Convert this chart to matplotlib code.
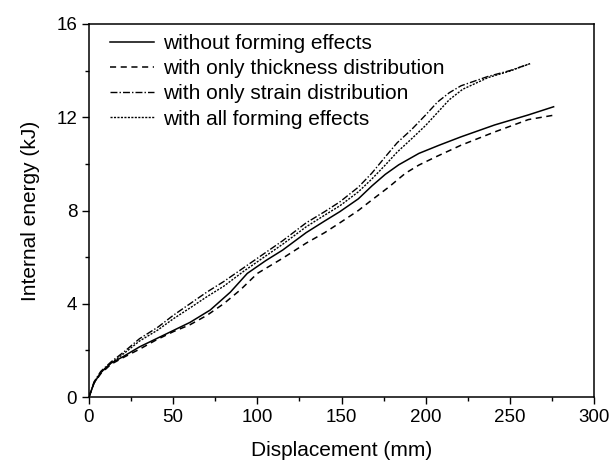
import matplotlib
matplotlib.use("Agg")
import matplotlib.pyplot as plt
import numpy as np

plt.rcParams['font.family'] = ['Liberation Sans', 'DejaVu Sans']

# Data
x_solid = [0, 3, 7, 13, 20, 30, 40, 50, 60, 72, 84, 94, 105, 115, 129, 140, 149, 160, 168, 176, 184, 196, 208, 221, 241, 261, 276]
y_solid = [0, 0.6, 1.05, 1.45, 1.72, 2.15, 2.5, 2.85, 3.2, 3.73, 4.5, 5.3, 5.85, 6.3, 7.05, 7.55, 7.95, 8.5, 9.05, 9.55, 9.96, 10.45, 10.8, 11.16, 11.67, 12.1, 12.45]

x_thick = [0, 3, 7, 13, 20, 30, 40, 50, 60, 70, 80, 90, 100, 115, 129, 140, 149, 160, 168, 178, 188, 196, 206, 221, 241, 261, 277]
y_thick = [0, 0.6, 1.0, 1.4, 1.68, 2.05, 2.45, 2.8, 3.1, 3.5, 4.0, 4.6, 5.3, 5.95, 6.6, 7.05, 7.47, 8.0, 8.45, 9.0, 9.6, 9.95, 10.3, 10.8, 11.37, 11.9, 12.1]

x_strain = [0, 3, 7, 13, 21, 30, 41, 50, 60, 70, 80, 90, 100, 115, 129, 140, 149, 160, 168, 176, 183, 192, 200, 207, 214, 221, 237, 250, 262]
y_strain = [0, 0.65, 1.1, 1.5, 1.95, 2.5, 3.0, 3.5, 4.0, 4.5, 4.95, 5.45, 5.95, 6.7, 7.47, 7.95, 8.37, 9.0, 9.6, 10.3, 10.9, 11.5, 12.1, 12.65, 13.05, 13.35, 13.75, 14.0, 14.3]

x_all = [0, 3, 7, 13, 21, 30, 41, 50, 60, 70, 80, 92, 100, 115, 129, 140, 149, 160, 168, 176, 183, 192, 200, 207, 214, 222, 237, 250, 262]
y_all = [0, 0.62, 1.05, 1.45, 1.88, 2.4, 2.88, 3.35, 3.82, 4.3, 4.75, 5.4, 5.8, 6.55, 7.3, 7.8, 8.2, 8.8, 9.35, 9.95, 10.5, 11.1, 11.65, 12.2, 12.75, 13.2, 13.7, 13.98, 14.3]

labels = ["without forming effects",
          "with only thickness distribution",
          "with only strain distribution",
          "with all forming effects"]

fig = plt.figure(figsize=(6.10, 4.66), dpi=100)
ax = fig.add_axes([89/610, 1 - 397/466, (594 - 89)/610, (397 - 24)/466])

ax.plot(x_solid, y_solid, color='black', lw=1.1, ls='-', label=labels[0])
ax.plot(x_thick, y_thick, color='black', lw=1.1, ls=(0, (4, 3)), label=labels[1])
ax.plot(x_strain, y_strain, color='black', lw=1.0, ls=(0, (5, 1.5, 1, 1.5)), label=labels[2])
ax.plot(x_all, y_all, color='black', lw=1.0, ls=(0, (1.5, 1)), label=labels[3])

ax.set_xlim(0, 300)
ax.set_ylim(0, 16)
ax.set_xticks([0, 50, 100, 150, 200, 250, 300])
ax.set_yticks([0, 4, 8, 12, 16])
ax.set_xticks(np.arange(25, 300, 50), minor=True)
ax.set_yticks(np.arange(2, 16, 4), minor=True)
ax.tick_params(which='major', direction='out', length=5, width=1, labelsize=13.5)
ax.tick_params(which='minor', direction='out', length=3, width=1)
for s in ax.spines.values():
    s.set_linewidth(1.1)

ax.set_xlabel("Displacement (mm)", fontsize=15, labelpad=11)
ax.set_ylabel("Internal energy (kJ)", fontsize=15, labelpad=12)

leg = ax.legend(loc='upper left', frameon=False, fontsize=15, handlelength=2.15,
                handletextpad=0.4, labelspacing=0.29, borderaxespad=0.1,
                bbox_to_anchor=(0.02, 1.0))

fig.savefig("out.png", dpi=100)
